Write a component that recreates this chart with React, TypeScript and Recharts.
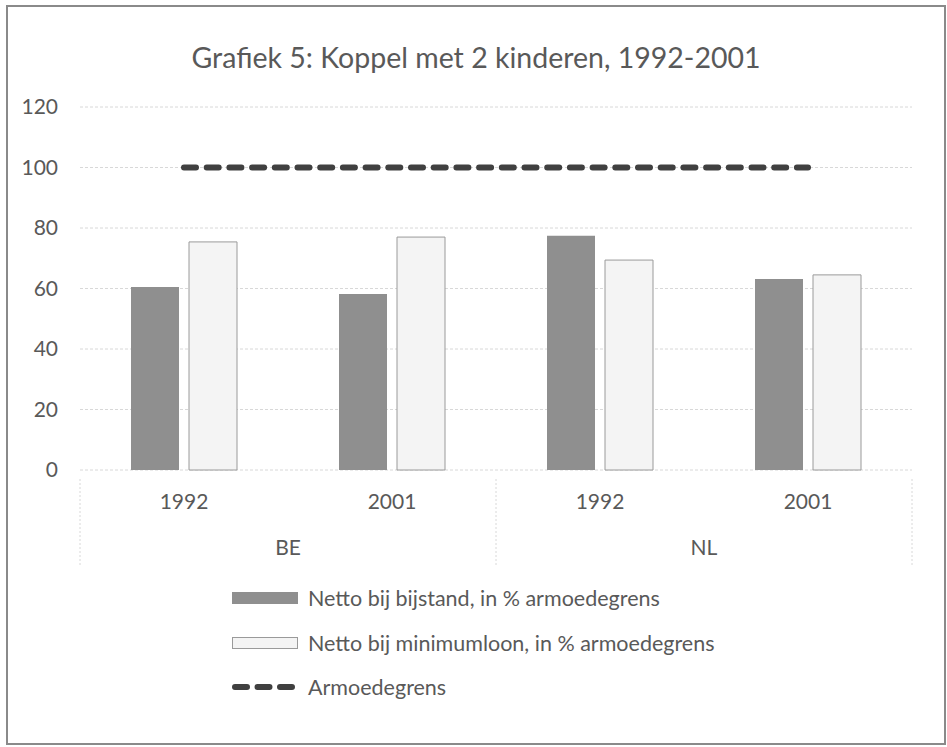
import React from 'react';
import { ComposedChart, Bar, Line, XAxis, YAxis, CartesianGrid, Legend } from 'recharts';

const years = ['1992', '2001', '1992', '2001'];
const countries = ['BE', 'BE', 'NL', 'NL'];
const bijstand = [60.5, 58.2, 77.4, 63.1];
const minimumloon = [75.4, 77.0, 69.4, 64.5];
const armoedegrens = [100, 100, 100, 100];
const yTicks = [0, 20, 40, 60, 80, 100, 120];

const data = years.map((y, i) => ({
  key: `${countries[i]}-${y}`,
  year: y,
  country: countries[i],
  bijstand: bijstand[i],
  minimumloon: minimumloon[i],
  armoedegrens: armoedegrens[i],
}));

const FONT = 'Lato, "Open Sans", sans-serif';
const TXT = '#595959';
const CAT_W = 208;
const legendOrder = ['bijstand', 'minimumloon', 'armoedegrens'];

const CountryTick = (props: any) => {
  const { x, y, index, payload } = props;
  const first = index === 0 || countries[index - 1] !== countries[index];
  const last = index === countries.length - 1;
  return (
    <g>
      {first && (
        <>
          <line x1={x - CAT_W / 2} x2={x - CAT_W / 2} y1={y - 36} y2={y + 50} stroke="#d8d8d8" strokeDasharray="2 2" />
          <text x={x + CAT_W / 2} y={y + 33} dy="0.35em" textAnchor="middle" fill={TXT} fontSize={21} fontFamily={FONT}>
            {payload.value}
          </text>
        </>
      )}
      {last && (
        <line x1={x + CAT_W / 2} x2={x + CAT_W / 2} y1={y - 36} y2={y + 50} stroke="#d8d8d8" strokeDasharray="2 2" />
      )}
    </g>
  );
};

const LegendContent = (props: any) => {
  const payload = [...(props.payload || [])].sort(
    (a: any, b: any) => legendOrder.indexOf(a.dataKey) - legendOrder.indexOf(b.dataKey)
  );
  return (
    <div style={{ fontFamily: FONT, fontSize: 21.5, color: TXT }}>
      {payload.map((p: any, i: number) => (
        <div key={i} style={{ height: 44.5, display: 'flex', alignItems: 'center' }}>
          <svg width={76} height={16} style={{ display: 'block' }}>
            {p.dataKey === 'armoedegrens' ? (
              <line x1={3} x2={60} y1={8} y2={8} stroke="#404040" strokeWidth={6} strokeLinecap="round" strokeDasharray="12 10.5" />
            ) : p.dataKey === 'bijstand' ? (
              <rect x={0} y={2} width={66} height={12} fill="#8f8f8f" />
            ) : (
              <rect x={0.5} y={2.5} width={65} height={11} fill="#f4f4f4" stroke="#9a9a9a" />
            )}
          </svg>
          <span style={{ whiteSpace: 'nowrap' }}>{p.value}</span>
        </div>
      ))}
    </div>
  );
};

export default function App() {
  return (
    <div
      style={{
        position: 'absolute',
        left: 6,
        top: 5,
        width: 936,
        height: 736,
        border: '2px solid #8a8a8a',
        background: '#fff',
      }}
    >
      <div
        style={{
          position: 'absolute',
          left: 0,
          right: 0,
          top: 33,
          textAlign: 'center',
          fontFamily: FONT,
          fontSize: 28.5,
          color: TXT,
        }}
      >
        Grafiek 5: Koppel met 2 kinderen, 1992-2001
      </div>
      <ComposedChart
        width={936}
        height={736}
        data={data}
        margin={{ top: 100, right: 32, bottom: 178, left: 0 }}
        barSize={48}
        barGap={10}
      >
        <CartesianGrid vertical={false} stroke="#d8d8d8" strokeDasharray="3 2" />
        <YAxis
          domain={[0, 120]}
          ticks={yTicks}
          width={72}
          axisLine={false}
          tickLine={false}
          tickSize={0}
          tickMargin={22}
          tick={{ fill: TXT, fontSize: 21, fontFamily: FONT }}
        />
        <XAxis
          dataKey="year"
          height={45}
          axisLine={false}
          tickLine={false}
          tickSize={0}
          tickMargin={24}
          tick={{ fill: TXT, fontSize: 21, fontFamily: FONT }}
        />
        <XAxis
          xAxisId="country"
          dataKey="country"
          height={50}
          axisLine={false}
          tickLine={false}
          tickSize={0}
          tickMargin={0}
          interval={0}
          tick={<CountryTick />}
        />
        <Bar dataKey="bijstand" name="Netto bij bijstand, in % armoedegrens" fill="#8f8f8f" isAnimationActive={false} />
        <Bar
          dataKey="minimumloon"
          name="Netto bij minimumloon, in % armoedegrens"
          fill="#f4f4f4"
          stroke="#9a9a9a"
          strokeWidth={1}
          isAnimationActive={false}
        />
        <Line
          dataKey="armoedegrens"
          name="Armoedegrens"
          type="linear"
          stroke="#404040"
          strokeWidth={6}
          strokeLinecap="round"
          strokeDasharray="12 10.7"
          dot={false}
          activeDot={false}
          legendType="line"
          isAnimationActive={false}
        />
        <Legend
          layout="vertical"
          align="center"
          verticalAlign="middle"
          content={<LegendContent />}
          wrapperStyle={{ top: 569, left: 224, width: 'auto', height: 'auto' }}
        />
      </ComposedChart>
    </div>
  );
}
